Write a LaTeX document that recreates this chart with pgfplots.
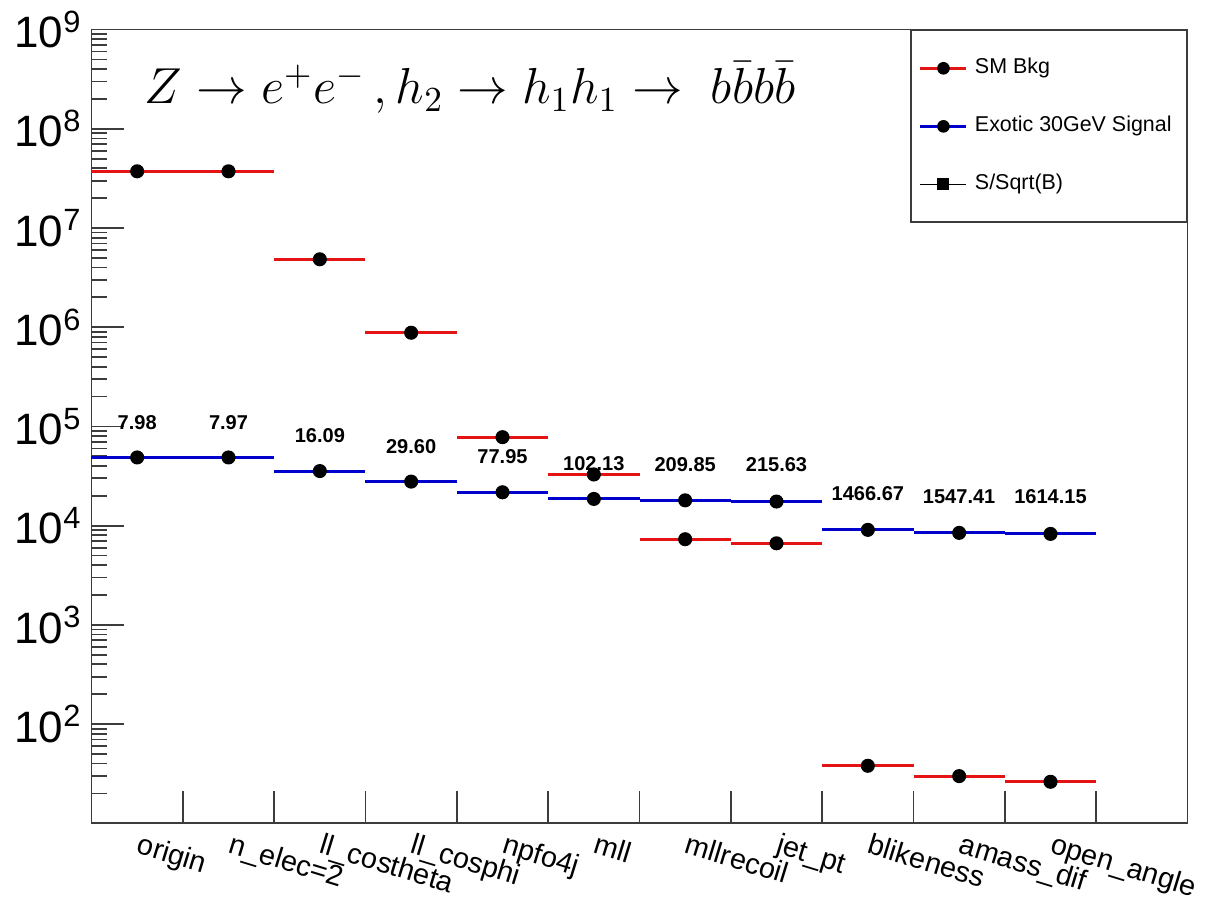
\documentclass[border=0pt]{standalone}
\usepackage{fontspec}
\setmainfont{Liberation Sans}
\usepackage{pgfplots}
\usepackage{pgfplotstable}
\pgfplotsset{compat=1.18}
\definecolor{rootred}{RGB}{228,20,20}
\definecolor{rootblue}{RGB}{0,0,205}
\definecolor{axgray}{RGB}{60,60,60}

\pgfplotstableread{
x     bkg      sig      ly       label
0.5   3.73e7   4.87e4   1.10e5   7.98
1.5   3.73e7   4.87e4   1.10e5   7.97
2.5   4.84e6   3.55e4   8.10e4   16.09
3.5   8.80e5   2.78e4   6.30e4   29.60
4.5   7.80e4   2.17e4   4.97e4   77.95
5.5   3.28e4   1.86e4   4.20e4   102.13
6.5   7.30e3   1.80e4   4.14e4   209.85
7.5   6.64e3   1.75e4   4.14e4   215.63
8.5   38.0     9.07e3   2.10e4   1466.67
9.5   29.9     8.46e3   1.97e4   1547.41
10.5  26.2     8.26e3   1.97e4   1614.15
}\cutdata

\begin{document}
\begin{tikzpicture}
\begin{axis}[
  scale only axis,
  width=109.6mm, height=79.37mm,
  xmin=0, xmax=12,
  ymode=log, ymin=10, ymax=1e9,
  axis line style={line width=0.5pt, axgray},
  every tick/.style={axgray, line width=0.5pt},
  major tick length=3.2mm, minor tick length=1.6mm,
  xtick={1,...,11},
  xticklabels={},
  extra x ticks={0.5,1.5,...,10.5},
  extra x tick labels={origin, {n\_elec=2}, ll\_costheta, ll\_cosphi, npfo4j, mll, mllrecoil, jet\_pt, blikeness, amass\_dif, open\_angle},
  extra x tick style={major tick length=0pt},
  xticklabel style={rotate=-17, anchor=north west, font=\fontsize{8.2}{9}\selectfont, inner sep=1pt, yshift=-0.35mm, xshift=0.3mm},
  xtick pos=bottom, ytick pos=left,
  ytick={10,100,1000,10000,100000,1000000,10000000,100000000,1000000000},
  yticklabels={,10\textsuperscript{2},10\textsuperscript{3},10\textsuperscript{4},10\textsuperscript{5},10\textsuperscript{6},10\textsuperscript{7},10\textsuperscript{8},10\textsuperscript{9}},
  yticklabel style={font=\fontsize{12.5}{14}\selectfont, inner sep=1pt, xshift=-0.5mm},
  yminorticks=true,
  legend style={at={(1,1)}, anchor=north east, draw=axgray, line width=0.5pt,
    font=\fontsize{6.1}{7}\selectfont, row sep=6.6pt, inner xsep=0.8mm, inner ysep=5.8pt},
  legend cell align=left,
  clip=false,
]
\coordinate (sw) at (rel axis cs:0,0);
\coordinate (ne) at (rel axis cs:1,1);

% SM background: horizontal bin lines
\addplot[draw=none, mark=none,
  legend image code/.code={\draw[rootred, line width=0.85pt] (0mm,0mm) -- (4.6mm,0mm); \fill[black] (2.3mm,0mm) circle (1.8pt);},
  error bars/.cd, x dir=both, x fixed=0.5, error mark=none,
  error bar style={rootred, line width=0.85pt}]
  table[x=x, y=bkg] {\cutdata};
\addlegendentry{SM Bkg}

% Signal: horizontal bin lines
\addplot[draw=none, mark=none,
  legend image code/.code={\draw[rootblue, line width=0.85pt] (0mm,0mm) -- (4.6mm,0mm); \fill[black] (2.3mm,0mm) circle (1.8pt);},
  error bars/.cd, x dir=both, x fixed=0.5, error mark=none,
  error bar style={rootblue, line width=0.85pt}]
  table[x=x, y=sig] {\cutdata};
\addlegendentry{Exotic 30GeV Signal}

% S/sqrt(B) values as text
\addplot[draw=none, mark=none,
  nodes near coords, point meta=explicit symbolic,
  every node near coord/.append style={anchor=center, font=\fontsize{5.7}{6}\selectfont\bfseries, black},
  legend image code/.code={\draw[black, line width=0.5pt] (0mm,0mm) -- (4.6mm,0mm); \fill[black] (1.7mm,-0.6mm) rectangle (2.9mm,0.6mm);}]
  table[x=x, y=ly, meta=label] {\cutdata};
\addlegendentry{S/Sqrt(B)}

% markers
\addplot[only marks, mark=*, mark size=1.8pt, black, forget plot]
  table[x=x, y=bkg] {\cutdata};
\addplot[only marks, mark=*, mark size=1.8pt, black, forget plot]
  table[x=x, y=sig] {\cutdata};

\node[anchor=west, inner sep=0pt, font=\fontsize{14.4}{17}\selectfont] at (rel axis cs:0.048,0.927)
  {$Z\rightarrow e^{+}e^{-}\,, h_{2}\rightarrow h_{1}h_{1}\rightarrow\ b\bar{b}b\bar{b}$};
\end{axis}
\pgfresetboundingbox
\path[use as bounding box] ([shift={(-9.15mm,-7.47mm)}]sw) rectangle ([shift={(3.35mm,2.96mm)}]ne);
\end{tikzpicture}
\end{document}
